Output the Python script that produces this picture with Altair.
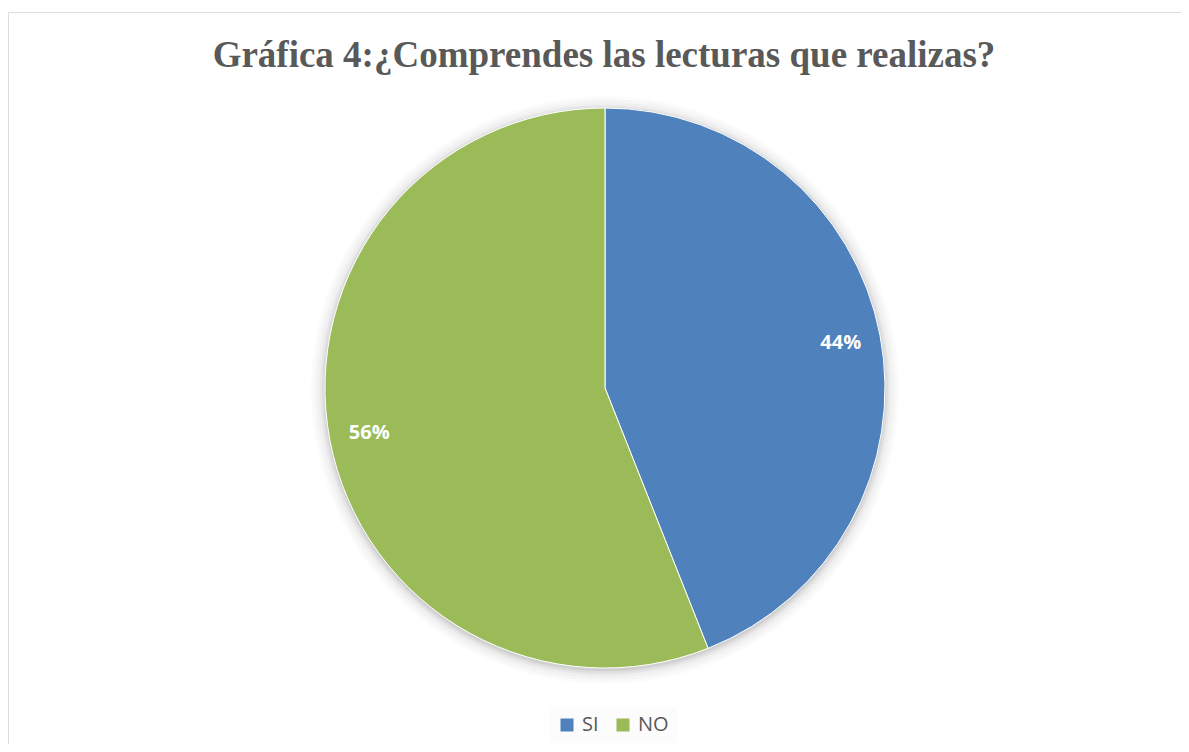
import altair as alt
import pandas as pd

categories = ["SI", "NO"]
values = [44, 56]
labels = ["44%", "56%"]
colors = ["#4F81BD", "#9BBB59"]
title_text = "Gráfica 4:¿Comprendes las lecturas que realizas?"

df = pd.DataFrame({"cat": categories, "val": values, "label": labels,
                   "order": [0, 1]})

W, H = 1173, 732
CX, CY = 597, 376
R = 280

base = alt.Chart(df).encode(
    theta=alt.Theta("val:Q", stack=True),
    order=alt.Order("order:Q"),
)

shadow_df = pd.DataFrame({"v": [1]})
shadows = []
for dr, op in [(14, 0.015), (11, 0.02), (8, 0.025), (5, 0.035), (3, 0.045), (1, 0.06)]:
    shadows.append(
        alt.Chart(shadow_df)
        .mark_arc(radius=R + dr, theta=0, theta2=6.2832, color="#000000", opacity=op)
        .encode(x=alt.value(CX), y=alt.value(CY + 2))
    )

pie = base.mark_arc(radius=R, stroke="white", strokeWidth=1).encode(
    color=alt.Color(
        "cat:N",
        scale=alt.Scale(domain=categories, range=colors),
        sort=categories,
        legend=alt.Legend(
            title=None,
            orient="none",
            legendX=541,
            legendY=695,
            direction="horizontal",
            symbolType="square",
            symbolSize=170,
            symbolStrokeWidth=0,
            labelFont="Open Sans",
            labelFontSize=20,
            labelColor="#595959",
            columnPadding=14,
            labelOffset=5,
            padding=8,
            fillColor="#fcfcfc",
        ),
    ),
    x=alt.value(CX),
    y=alt.value(CY),
)

text = base.mark_text(
    radius=240, font="Open Sans", fontWeight="bold", fontSize=20, color="white"
).encode(text="label:N", x=alt.value(CX), y=alt.value(CY))

title = alt.Chart(shadow_df).mark_text(
    font="Liberation Serif", fontWeight="bold", fontSize=37, color="#595959",
    baseline="alphabetic", align="center",
).encode(text=alt.value(title_text), x=alt.value(596), y=alt.value(55))

chart = alt.layer(*shadows, pie, text, title).properties(
    width=W, height=H,
    padding={"top": 4, "left": 0, "right": 0, "bottom": 0},
    autosize=alt.AutoSizeParams(type="none"),
).configure_view(
    fill="#f6f6f6", stroke="#d9d9d9", strokeWidth=1
).configure(background="white")

chart.save("out.html", embed_options={"renderer": "svg", "actions": False})
